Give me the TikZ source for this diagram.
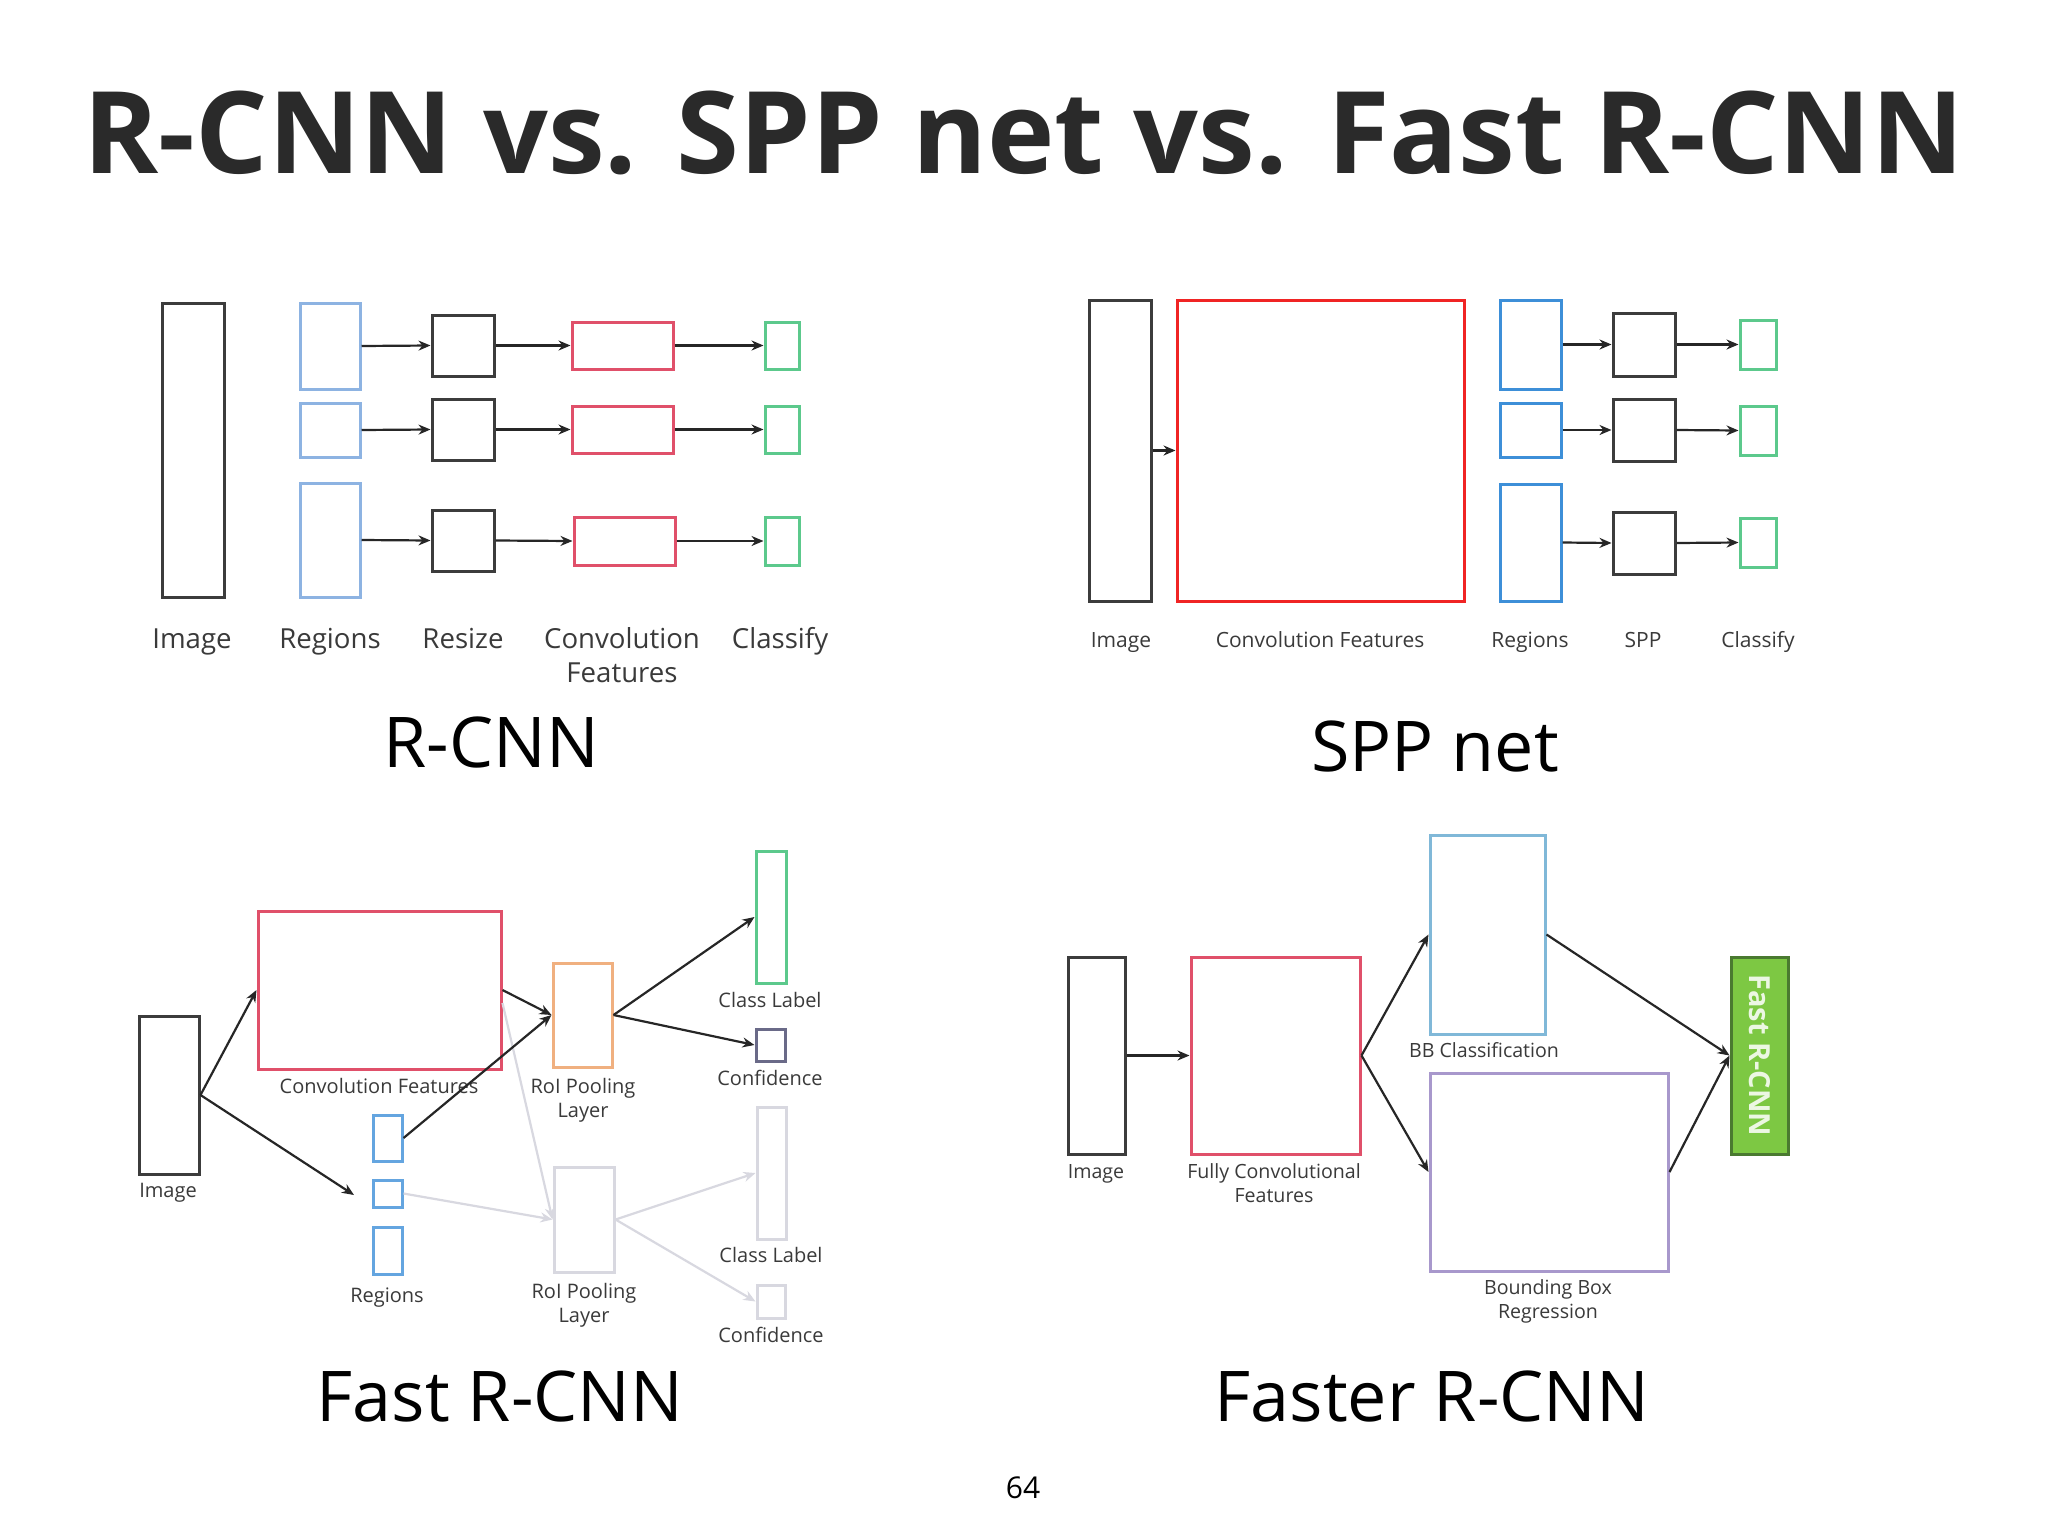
\documentclass[tikz,border=0pt]{standalone}
\usepackage{fontspec}
\setmainfont{Open Sans}
\usetikzlibrary{arrows.meta,fit}
\definecolor{dk}{HTML}{3C3C3C}
\definecolor{bl1}{HTML}{8DB3E2}
\definecolor{bl2}{HTML}{3D8FD8}
\definecolor{rd1}{HTML}{E0506A}
\definecolor{rd2}{HTML}{F02424}
\definecolor{gn}{HTML}{5CC98C}
\definecolor{og}{HTML}{F0B080}
\definecolor{cf}{HTML}{6A6A88}
\definecolor{lg}{HTML}{D8D8E0}
\definecolor{lbl}{HTML}{80B8D8}
\definecolor{pu}{HTML}{A898CC}
\definecolor{gf}{HTML}{7DC843}
\definecolor{gd}{HTML}{4A7A30}
\definecolor{tx}{HTML}{3A3A3A}
\definecolor{tt}{HTML}{2A2A2A}
\tikzset{
  bx/.style={draw, inner sep=0pt, line width=1.5pt},
  dkbox/.style={bx, draw=dk},
  arr/.style={draw=black!85, line width=1.1pt, -{Stealth[length=6pt,width=5pt]}},
  larr/.style={draw=lg, line width=1.1pt, -{Stealth[length=6pt,width=5pt]}},
  lab/.style={anchor=base, inner sep=0pt, text=tx, align=center},
  labA/.style={lab, font=\fontsize{13.8pt}{17pt}\selectfont},
  labB/.style={lab, font=\fontsize{10.5pt}{13pt}\selectfont},
  labC/.style={lab, font=\fontsize{10pt}{12pt}\selectfont},
  labD/.style={lab, font=\fontsize{9.8pt}{12pt}\selectfont},
  sub/.style={anchor=base, inner sep=0pt, text=black, font=\fontsize{35pt}{40pt}\selectfont},
}
\begin{document}
\begin{tikzpicture}[x=0.5pt,y=-0.5pt]
\useasboundingbox[fill=white] (0,0) rectangle (2048,1536);
% title
\node[anchor=base, inner sep=0pt, text=tt, font=\fontsize{57pt}{60pt}\selectfont\bfseries] (title) at (1024,173) {R-CNN vs. SPP net vs. Fast R-CNN};

% ---------------- R-CNN ----------------
\node[dkbox, fit={(162,303)(224,597)}] (a-img) {};
\node[bx, draw=bl1, fit={(300,303)(360,389)}] (a-r1) {};
\node[bx, draw=bl1, fit={(300,403)(360,457)}] (a-r2) {};
\node[bx, draw=bl1, fit={(300,483)(360,597)}] (a-r3) {};
\node[dkbox, fit={(432,315)(494,376)}] (a-s1) {};
\node[dkbox, fit={(432,399)(494,460)}] (a-s2) {};
\node[dkbox, fit={(432,510)(494,571)}] (a-s3) {};
\node[bx, draw=rd1, fit={(572,322)(673,369)}] (a-c1) {};
\node[bx, draw=rd1, fit={(572,406)(673,453)}] (a-c2) {};
\node[bx, draw=rd1, fit={(574,517)(675,565)}] (a-c3) {};
\node[bx, draw=gn, fit={(765,322)(799,369)}] (a-k1) {};
\node[bx, draw=gn, fit={(765,406)(799,453)}] (a-k2) {};
\node[bx, draw=gn, fit={(765,517)(799,565)}] (a-k3) {};
\foreach \i in {1,2,3}{
  \draw[arr] (a-r\i.east) -- (a-s\i.west);
  \draw[arr] (a-s\i.east) -- (a-c\i.west);
  \draw[arr] (a-c\i.east) -- (a-k\i.west);
}
\node[labA] (a-l1) at (192,648) {Image};
\node[labA] (a-l2) at (330,648) {Regions};
\node[labA] (a-l3) at (463,648) {Resize};
\node[labA] (a-l4) at (622,682) {Convolution\\Features};
\node[labA] (a-l5) at (780,648) {Classify};
\node[sub] (a-t) at (491,767) {R-CNN};

% ---------------- SPP net ----------------
\node[dkbox, fit={(1089,300)(1151,601)}] (b-img) {};
\node[bx, draw=rd2, fit={(1177,300)(1464,601)}] (b-cf) {};
\draw[arr] (b-img.east) -- (b-cf.west);
\node[bx, draw=bl2, fit={(1500,300)(1561,389)}] (b-r1) {};
\node[bx, draw=bl2, fit={(1500,403)(1561,457)}] (b-r2) {};
\node[bx, draw=bl2, fit={(1500,484)(1561,601)}] (b-r3) {};
\node[dkbox, fit={(1613,313)(1675,376)}] (b-s1) {};
\node[dkbox, fit={(1613,399)(1675,461)}] (b-s2) {};
\node[dkbox, fit={(1613,512)(1675,574)}] (b-s3) {};
\node[bx, draw=gn, fit={(1740,320)(1776,369)}] (b-k1) {};
\node[bx, draw=gn, fit={(1740,406)(1776,455)}] (b-k2) {};
\node[bx, draw=gn, fit={(1740,518)(1776,567)}] (b-k3) {};
\foreach \i in {1,2,3}{
  \draw[arr] (b-r\i.east) -- (b-s\i.west);
  \draw[arr] (b-s\i.east) -- (b-k\i.west);
}
\node[labB] (b-l1) at (1121,647) {Image};
\node[labB] (b-l2) at (1320,647) {Convolution Features};
\node[labB] (b-l3) at (1530,647) {Regions};
\node[labB] (b-l4) at (1643,647) {SPP};
\node[labB] (b-l5) at (1758,647) {Classify};
\node[sub] (b-t) at (1435,771) {SPP net};

% ---------------- Fast R-CNN ----------------
\node[dkbox, fit={(139,1016)(199,1174)}] (c-img) {};
\node[bx, draw=rd1, fit={(258,911)(501,1069)}] (c-cf) {};
\node[bx, draw=og, fit={(553,963)(612,1067)}] (c-roi) {};
\node[bx, draw=gn, fit={(756,851)(786,983)}] (c-cl) {};
\node[bx, draw=cf, fit={(756,1029)(785,1061)}] (c-co) {};
\node[bx, draw=bl2!80, fit={(373,1115)(402,1161)}] (c-r1) {};
\node[bx, draw=bl2!80, fit={(373,1180)(402,1207)}] (c-r2) {};
\node[bx, draw=bl2!80, fit={(373,1227)(402,1274)}] (c-r3) {};
\node[bx, draw=lg, fit={(554,1167)(614,1272)}] (c-roi2) {};
\node[bx, draw=lg, fit={(757,1107)(786,1239)}] (c-cl2) {};
\node[bx, draw=lg, fit={(757,1285)(785,1318)}] (c-co2) {};
\coordinate (c-end) at (354,1195);
% light connectors first
\draw[larr] ([yshift=-6.5pt]c-cf.east) -- (c-roi2.west);
\draw[larr] (c-r2.east) -- (c-roi2.west);
\draw[larr] (c-roi2.east) -- (c-cl2.west);
\draw[larr] (c-roi2.east) -- (c-co2.west);
\node[labC] (c-l1) at (168,1197) {Image};
\node[labC] (c-l2) at (379,1093) {Convolution Features};
\node[labC] (c-l3) at (583,1117) {RoI Pooling\\Layer};
\node[labC] (c-l4) at (770,1007) {Class Label};
\node[labC] (c-l5) at (770,1085) {Confidence};
\node[labC] (c-l6) at (387,1302) {Regions};
\node[labC] (c-l7) at (584,1322) {RoI Pooling\\Layer};
\node[labC] (c-l8) at (771,1262) {Class Label};
\node[labC] (c-l9) at (771,1342) {Confidence};
\draw[arr] (c-img.east) -- (c-cf.west);
\draw[arr] (c-img.east) -- (c-end);
\draw[arr] (c-cf.east) -- (c-roi.west);
\draw[arr] (c-r1.east) -- (c-roi.west);
\draw[arr] (c-roi.east) -- (c-cl.west);
\draw[arr] (c-roi.east) -- (c-co.west);
\node[sub] (c-t) at (500,1421) {Fast R-CNN};

% ---------------- Faster R-CNN ----------------
\node[dkbox, fit={(1068,957)(1125,1154)}] (d-img) {};
\node[bx, draw=rd1, fit={(1191,957)(1360,1154)}] (d-fcf) {};
\node[bx, draw=lbl, fit={(1430,835)(1545,1034)}] (d-bb) {};
\node[bx, draw=pu, fit={(1430,1073)(1668,1271)}] (d-bbr) {};
\node[bx, draw=gd, fill=gf, fit={(1731,957)(1788,1154)}] (d-frc) {};
\node[rotate=-90, inner sep=0pt, text=white!85!gf, font=\fontsize{14.5pt}{16pt}\selectfont\bfseries] (d-frct) at (d-frc.center) {Fast R-CNN};
\draw[arr] (d-img.east) -- (d-fcf.west);
\draw[arr] (d-fcf.east) -- (d-bb.west);
\draw[arr] (d-fcf.east) -- (d-bbr.west);
\draw[arr] (d-bb.east) -- (d-frc.west);
\draw[arr] (d-bbr.east) -- (d-frc.west);
\node[labD] (d-l1) at (1096,1178) {Image};
\node[labD] (d-l2) at (1274,1202) {Fully Convolutional\\Features};
\node[labD] (d-l3) at (1484,1057) {BB Classification};
\node[labD] (d-l4) at (1548,1318) {Bounding Box\\Regression};
\node[sub] (d-t) at (1432,1421) {Faster R-CNN};

% page number
\node[anchor=base, inner sep=0pt, text=black, font=\fontsize{15pt}{18pt}\selectfont] (pg) at (1023,1498) {64};
\end{tikzpicture}
\end{document}
